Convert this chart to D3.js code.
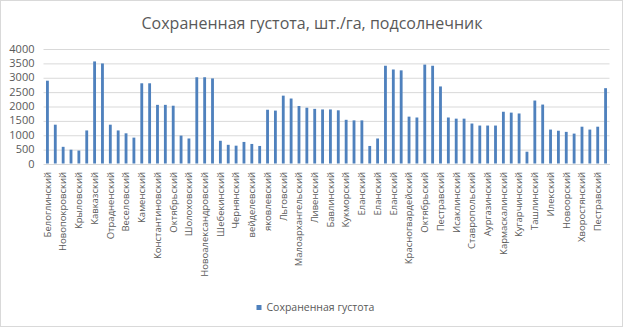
<!DOCTYPE html>
<html>
<head>
<meta charset="utf-8">
<script src="https://cdn.jsdelivr.net/npm/d3@7"></script>
<style>
  html, body { margin: 0; padding: 0; background: #fff; }
  svg { display: block; }
  text { font-family: "Open Sans", "Liberation Sans", sans-serif; fill: #595959; }
</style>
</head>
<body>
<svg id="chart" width="624" height="328"></svg>
<script>
// Districts (two samples per district; only every other name is printed on the axis)
const districts = [
  "Белоглинский", "Белоглинский", "Новопокровский", "Новопокровский",
  "Крыловский", "Крыловский", "Кавказский", "Кавказский",
  "Отрадненский", "Отрадненский", "Веселовский", "Веселовский",
  "Каменский", "Каменский", "Константиновский", "Константиновский",
  "Октябрьский", "Октябрьский", "Шолоховский", "Шолоховский",
  "Новоалександровский", "Новоалександровский", "Шебекинский", "Шебекинский",
  "Чернянский", "Чернянский", "вейделевский", "вейделевский",
  "яковлевский", "яковлевский", "Льговский", "Льговский",
  "Малоархангельский", "Малоархангельский", "Ливенский", "Ливенский",
  "Бавлинский", "Бавлинский", "Кукморский", "Кукморский",
  "Еланский", "Еланский", "Еланский", "Еланский",
  "Еланский", "Еланский", "Красногвардейский", "Красногвардейский",
  "Октябрьский", "Октябрьский", "Пестравский", "Пестравский",
  "Исаклинский", "Исаклинский", "Ставропольский", "Ставропольский",
  "Аургазинский", "Аургазинский", "Кармаскалинский", "Кармаскалинский",
  "Кугарчинский", "Кугарчинский", "Ташлинский", "Ташлинский",
  "Илекский", "Илекский", "Новоорский", "Новоорский",
  "Хворостянский", "Хворостянский", "Пестравский", "Пестравский"
];

// Preserved plant density, plants/ha
const density = [
  2880, 1350, 580, 480, 450, 1150, 3550, 3480,
  1350, 1150, 1050, 900, 2790, 2790, 2040, 2040,
  2010, 970, 870, 3000, 3000, 2960, 790, 650,
  620, 750, 680, 610, 1870, 1840, 2360, 2260,
  2000, 1940, 1900, 1880, 1880, 1850, 1520, 1500,
  1500, 610, 870, 3400, 3270, 3240, 1630, 1600,
  3440, 3400, 2680, 1600, 1560, 1560, 1390, 1320,
  1320, 1320, 1800, 1770, 1740, 410, 2190, 2050,
  1180, 1140, 1100, 1040, 1280, 1180, 1280, 2620
];

const yTicks = [0, 500, 1000, 1500, 2000, 2500, 3000, 3500, 4000];

const titleText = "Сохраненная густота, шт./га, подсолнечник";
const seriesName = "Сохраненная густота";

const W = 624, H = 328;
const plot = { left: 43.5, right: 609.5, top: 48.5, bottom: 163.5 };
const barColor = "#4f81bd";

const svg = d3.select("#chart");

// chart frame
svg.append("rect")
  .attr("x", 0.5).attr("y", 0.5)
  .attr("width", W - 2).attr("height", H - 2)
  .attr("fill", "#fff")
  .attr("stroke", "#d9d9d9");

// title
svg.append("text")
  .attr("x", 312).attr("y", 29)
  .attr("text-anchor", "middle")
  .style("font-size", "16px")
  .text(titleText);

const idx = d3.range(density.length);

const x = d3.scaleBand()
  .domain(idx)
  .range([plot.left, plot.right])
  .paddingInner(0.64)
  .paddingOuter(0.32);

const y = d3.scaleLinear()
  .domain([0, 4000])
  .range([plot.bottom, plot.top]);

// gridlines + y labels
const yAxis = d3.axisLeft(y)
  .tickValues(yTicks)
  .tickSize(-(plot.right - plot.left))
  .tickPadding(9)
  .tickFormat(d3.format("d"));

const gy = svg.append("g")
  .attr("transform", `translate(${plot.left},0)`)
  .call(yAxis);
gy.select(".domain").remove();
gy.selectAll(".tick line").attr("stroke", "#d9d9d9").attr("stroke-width", 1)
  .attr("transform", "translate(0,0.5)");
gy.selectAll(".tick text")
  .attr("fill", "#595959")
  .style("font-size", "11px")
  .style("font-family", "'Open Sans', sans-serif");

// bars
svg.append("g")
  .selectAll("rect")
  .data(idx)
  .join("rect")
  .attr("x", i => x(i))
  .attr("width", x.bandwidth())
  .attr("y", i => y(density[i]))
  .attr("height", i => y(0) - y(density[i]))
  .attr("fill", barColor);

// category axis (every other label)
const xAxis = d3.axisBottom(x)
  .tickValues(idx.filter(i => i % 2 === 0))
  .tickSize(0)
  .tickFormat(i => districts[i]);

const gx = svg.append("g")
  .attr("transform", `translate(0,${plot.bottom + 0.5})`)
  .call(xAxis);
gx.select(".domain").attr("stroke", "#d9d9d9");
gx.selectAll(".tick text")
  .attr("fill", "#595959")
  .style("font-size", "9.5px")
  .style("font-family", "'Open Sans', sans-serif")
  .attr("text-anchor", "end")
  .attr("transform", "translate(0,8) rotate(-90)")
  .attr("x", 0)
  .attr("y", 0)
  .attr("dy", "0.35em");

// legend
const lg = svg.append("g").attr("transform", "translate(256.5,305)");
lg.append("rect").attr("width", 5).attr("height", 5).attr("fill", barColor);
lg.append("text")
  .attr("x", 10).attr("y", 5.5)
  .style("font-size", "10.5px")
  .text(seriesName);
</script>
</body>
</html>
